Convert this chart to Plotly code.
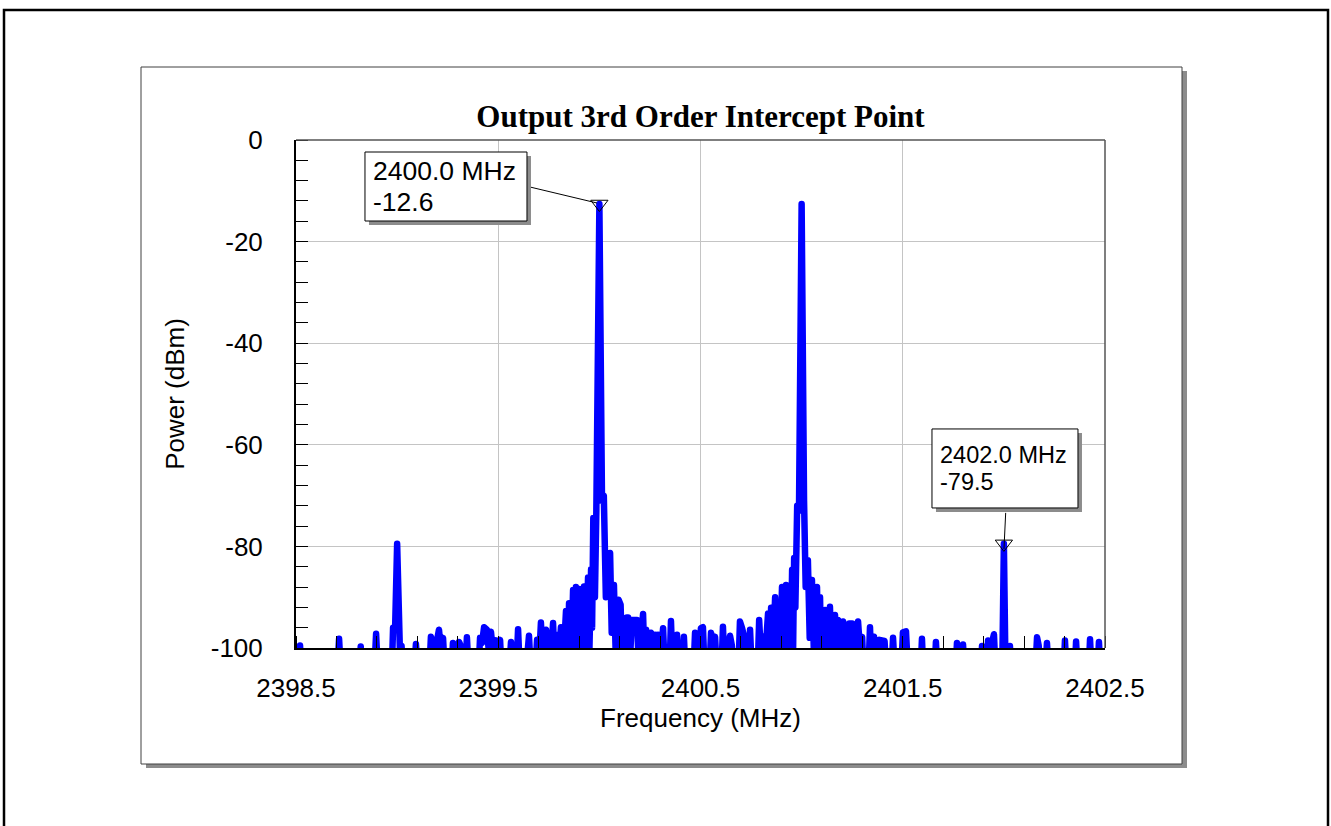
import plotly.graph_objects as go

# ---------------- data ----------------
# spectrum trace, split in four frequency regions; -104 dBm = below the plotted floor
r1_freq = [2398.500, 2398.515, 2398.520, 2398.526, 2398.705, 2398.713, 2398.721, 2398.814, 2398.820, 2398.826,
           2398.888, 2398.896, 2398.904, 2398.974, 2398.980, 2398.990, 2399.000, 2399.008, 2399.016, 2399.022,
           2399.028, 2399.085, 2399.093, 2399.101, 2399.160, 2399.167, 2399.188, 2399.207, 2399.217, 2399.227,
           2399.235, 2399.270, 2399.276, 2399.290, 2399.300, 2399.306, 2399.315, 2399.325, 2399.338, 2399.345,
           2399.353, 2399.403, 2399.410, 2399.420, 2399.430, 2399.444, 2399.452, 2399.464, 2399.472, 2399.489,
           2399.498, 2399.509, 2399.516]
r1_dbm = [-104, -104, -99.5, -104, -104, -98.2, -104, -104, -99.7, -104,
          -104, -97.2, -104, -104, -96.0, -96.2, -79.5, -104, -104, -99.6,
          -104, -104, -99.2, -104, -104, -97.8, -100.5, -96.4, -100.5, -98.0,
          -104, -104, -99.0, -104, -104, -98.8, -99.6, -104, -104, -97.9,
          -104, -104, -98.0, -99.0, -95.9, -96.4, -100, -96.8, -100, -98.5,
          -101, -98.4, -104]

r2_freq = [2399.555, 2399.563, 2399.571, 2399.590, 2399.598, 2399.606, 2399.638, 2399.644, 2399.652, 2399.660,
           2399.684, 2399.692, 2399.700, 2399.711, 2399.722, 2399.736, 2399.743, 2399.751, 2399.760, 2399.771,
           2399.780, 2399.795, 2399.801, 2399.810, 2399.820, 2399.835, 2399.843, 2399.850, 2399.860, 2399.870,
           2399.877, 2399.884, 2399.892, 2399.899, 2399.910, 2399.924, 2399.932, 2399.944, 2399.951, 2399.959,
           2399.964, 2399.970, 2399.978, 2399.985, 2400.000, 2400.013, 2400.022, 2400.032, 2400.053, 2400.061,
           2400.072, 2400.080, 2400.095, 2400.105, 2400.113, 2400.135, 2400.142, 2400.150, 2400.160, 2400.172,
           2400.186, 2400.195, 2400.216, 2400.224, 2400.231, 2400.240, 2400.255, 2400.265, 2400.275, 2400.283,
           2400.290, 2400.300, 2400.315, 2400.323, 2400.347, 2400.354, 2400.362, 2400.377, 2400.384, 2400.391,
           2400.411, 2400.418, 2400.425, 2400.466, 2400.473, 2400.480, 2400.495, 2400.502, 2400.512, 2400.520]
r2_dbm = [-104, -98.8, -104, -104, -96.3, -104, -104, -99.0, -97.6, -104,
          -104, -98.4, -104, -95.0, -104, -96.4, -102, -97.0, -102, -95.1,
          -104, -97.4, -101, -95.9, -104, -92.7, -104, -91.2, -104, -88.6,
          -104, -88.0, -104, -88.4, -104, -87.9, -104, -86.1, -100, -84.5,
          -96, -74.4, -90, -73.0, -12.6, -71.0, -70.0, -90.0, -81.3, -97,
          -87.6, -100, -90.5, -91.5, -104, -94.0, -94.0, -104, -94.5, -94.5,
          -94.5, -104, -93.3, -104, -96.4, -104, -97.0, -104, -97.4, -104,
          -97.4, -104, -96.1, -104, -104, -94.7, -104, -104, -97.4, -104,
          -104, -97.8, -104, -104, -97.0, -104, -104, -96.1, -95.9, -104]

r3_freq = [2400.545, 2400.552, 2400.565, 2400.572, 2400.580, 2400.604, 2400.611, 2400.619, 2400.636, 2400.646,
           2400.655, 2400.664, 2400.688, 2400.695, 2400.705, 2400.715, 2400.722, 2400.738, 2400.745, 2400.753,
           2400.783, 2400.790, 2400.800, 2400.809, 2400.816, 2400.834, 2400.842, 2400.849, 2400.856, 2400.869,
           2400.876, 2400.884, 2400.892, 2400.903, 2400.910, 2400.923, 2400.930, 2400.938, 2400.945, 2400.953,
           2400.958, 2400.963, 2400.969, 2400.978, 2400.987, 2401.000, 2401.012, 2401.020, 2401.031, 2401.040,
           2401.051, 2401.060, 2401.076, 2401.083, 2401.091, 2401.098, 2401.116, 2401.123, 2401.140, 2401.150,
           2401.165, 2401.172, 2401.180, 2401.190, 2401.205, 2401.212, 2401.235, 2401.250, 2401.258, 2401.279,
           2401.288, 2401.299, 2401.306, 2401.331, 2401.338, 2401.345, 2401.358, 2401.365, 2401.385, 2401.400,
           2401.410, 2401.418, 2401.445, 2401.452, 2401.460, 2401.493, 2401.501, 2401.516, 2401.525]
r3_dbm = [-104, -97.0, -100, -97.8, -104, -104, -95.8, -104, -99, -97.6,
          -99.5, -104, -104, -94.8, -96.0, -97.6, -104, -104, -96.4, -104,
          -104, -94.5, -102, -97.8, -104, -93.2, -104, -92.1, -104, -90.0,
          -104, -91.5, -104, -88.0, -104, -87.6, -104, -88.2, -104, -84.6,
          -100, -82.3, -92, -72.0, -73.0, -12.6, -71.0, -88, -82.7, -98,
          -86.6, -100, -88.0, -104, -90.0, -104, -92.5, -104, -91.9, -104,
          -93.5, -98, -94.5, -104, -94.8, -104, -95.2, -95.2, -104, -94.8,
          -100, -97.8, -104, -104, -95.9, -104, -97.8, -104, -98.4, -98.4,
          -98.6, -104, -104, -98.0, -104, -104, -96.9, -96.7, -104]

r4_freq = [2401.589, 2401.595, 2401.601, 2401.658, 2401.664, 2401.671, 2401.762, 2401.768, 2401.775, 2401.792,
           2401.798, 2401.805, 2401.887, 2401.892, 2401.898, 2401.915, 2401.922, 2401.935, 2401.951, 2401.958,
           2401.992, 2402.000, 2402.008, 2402.025, 2402.030, 2402.036, 2402.156, 2402.164, 2402.172, 2402.180,
           2402.206, 2402.213, 2402.221, 2402.296, 2402.302, 2402.309, 2402.351, 2402.357, 2402.364, 2402.420,
           2402.426, 2402.433, 2402.464, 2402.470, 2402.477, 2402.500]
r4_dbm = [-104, -98.2, -104, -104, -98.8, -104, -104, -99.0, -104, -104,
          -99.3, -104, -104, -99.6, -104, -104, -98.5, -100, -97.3, -104,
          -104, -79.5, -104, -104, -99.6, -104, -104, -97.9, -99.5, -104,
          -104, -99.0, -104, -104, -98.5, -104, -104, -98.7, -104, -104,
          -98.3, -104, -104, -98.8, -104, -104]

# marker readouts
marker_freq = [2400.0, 2402.0]
marker_dbm = [-12.6, -79.5]
marker_line1 = ["2400.0 MHz", "2402.0 MHz"]
marker_line2 = ["-12.6", "-79.5"]

# axis ticks
x_tick_vals = [2398.5, 2399.5, 2400.5, 2401.5, 2402.5]
x_tick_labels = ["2398.5", "2399.5", "2400.5", "2401.5", "2402.5"]
y_tick_vals = [0, -20, -40, -60, -80, -100]
y_tick_labels = ["0", "-20", "-40", "-60", "-80", "-100"]

title_text = "Output 3rd Order Intercept Point"
x_title = "Frequency (MHz)"
y_title = "Power (dBm)"

for a, b in [(r1_freq, r1_dbm), (r2_freq, r2_dbm), (r3_freq, r3_dbm), (r4_freq, r4_dbm)]:
    assert len(a) == len(b)

freq = r1_freq + r2_freq + r3_freq + r4_freq
power = r1_dbm + r2_dbm + r3_dbm + r4_dbm

# ---------------- layout constants ----------------
W, H = 1331, 826
PL, PR, PT, PB = 296, 1105, 140, 648      # plot area in px
PW, PH = PR - PL, PB - PT
SANS = "Liberation Sans, Arial, sans-serif"
SERIF = "Liberation Serif, Times New Roman, serif"


def px(xp):
    return (xp - PL) / PW


def py(yp):
    return (PB - yp) / PH


fig = go.Figure()
fig.add_trace(go.Scatter(x=freq, y=power, mode="lines",
                         line=dict(color="#0000ff", width=6.5),
                         hoverinfo="skip", showlegend=False))
fig.add_trace(go.Scatter(x=marker_freq, y=marker_dbm, mode="markers",
                         marker=dict(symbol="triangle-down-open", size=15, color="black",
                                     line=dict(width=1, color="black")),
                         hoverinfo="skip", showlegend=False))

shapes = []
# outer border
shapes.append(dict(type="rect", xref="paper", yref="paper", x0=px(4), x1=px(1328), y0=py(10), y1=py(840),
                   line=dict(color="black", width=2.5), fillcolor="rgba(0,0,0,0)", layer="below"))
# panel shadow + panel
shapes.append(dict(type="rect", xref="paper", yref="paper", x0=px(146), x1=px(1187), y0=py(71), y1=py(768),
                   line=dict(width=0), fillcolor="#8c8c8c", layer="below"))
shapes.append(dict(type="rect", xref="paper", yref="paper", x0=px(141), x1=px(1182), y0=py(67), y1=py(764),
                   line=dict(color="#404040", width=1), fillcolor="white", layer="below"))
# top / right frame of plot area
shapes.append(dict(type="line", xref="paper", yref="paper", x0=0, x1=1, y0=1, y1=1,
                   line=dict(color="#555555", width=1.5), layer="above"))
shapes.append(dict(type="line", xref="paper", yref="paper", x0=1, x1=1, y0=0, y1=1,
                   line=dict(color="#555555", width=1.5), layer="above"))

# readout boxes (pixel offsets relative to the marker data point)
box_geom = [  # x0, x1, y0, y1 (px offsets, y positive upward)
    (-234.4, -72.4, 52, -17),
    (-71.9, 74.1, 114.9, 35.9),
]
conn_geom = [
    (-69.4, 17, -2.4, 1),
    (1.8, 31, 0.1, -5),
]
text_geom = [  # xshift, yshift line1, yshift line2, font size
    (-226.4, 33, 2, 26.5),
    (-64, 89, 62, 23.5),
]
annotations = []
for i in range(len(marker_freq)):
    fx, fy = marker_freq[i], marker_dbm[i]
    x0, x1, y0, y1 = box_geom[i]
    common = dict(xref="x", yref="y", xsizemode="pixel", ysizemode="pixel", xanchor=fx, yanchor=fy, layer="above")
    shapes.append(dict(type="line", x0=conn_geom[i][0], y0=conn_geom[i][1], x1=conn_geom[i][2], y1=conn_geom[i][3],
                       line=dict(color="black", width=1), **common))
    shapes.append(dict(type="rect", x0=x0 + 4, x1=x1 + 4, y0=y0 - 4, y1=y1 - 4,
                       line=dict(width=0), fillcolor="#8c8c8c", **common))
    shapes.append(dict(type="rect", x0=x0, x1=x1, y0=y0, y1=y1,
                       line=dict(color="black", width=1), fillcolor="white", **common))
    xs, ys1, ys2, fs = text_geom[i]
    for txt, ys in [(marker_line1[i], ys1), (marker_line2[i], ys2)]:
        annotations.append(dict(x=fx, y=fy, xref="x", yref="y", text=txt, showarrow=False,
                                xanchor="left", yanchor="middle", xshift=xs, yshift=ys,
                                borderpad=0, borderwidth=0,
                                font=dict(family=SANS, size=fs, color="black")))

fig.update_layout(
    width=W, height=H,
    margin=dict(l=PL, r=W - PR, t=PT, b=H - PB, pad=0, autoexpand=False),
    paper_bgcolor="white", plot_bgcolor="white",
    showlegend=False,
    title=dict(text="<b>" + title_text + "</b>", x=0.5, xref="paper", xanchor="center",
               y=1 - 116 / H, yref="container", yanchor="middle",
               font=dict(family=SERIF, size=31, color="black")),
    shapes=shapes,
    annotations=annotations,
    xaxis=dict(range=[2398.5, 2402.5], tickmode="array", tickvals=x_tick_vals, ticktext=x_tick_labels,
               showgrid=True, gridcolor="#c4c4c4", gridwidth=1, zeroline=False,
               ticks="", showline=True, linecolor="black", linewidth=2, mirror=False,
               ticklabelstandoff=16,
               tickfont=dict(family=SANS, size=26, color="black"),
               minor=dict(tickmode="linear", tick0=2398.5, dtick=0.2, ticks="inside", ticklen=12,
                          tickcolor="black", tickwidth=1, showgrid=False),
               title=dict(text=x_title, font=dict(family=SANS, size=26, color="black"), standoff=6),
               automargin=False, fixedrange=True),
    yaxis=dict(range=[-100, 0], tickmode="array", tickvals=y_tick_vals, ticktext=y_tick_labels,
               showgrid=True, gridcolor="#c4c4c4", gridwidth=1, zeroline=False,
               ticks="", showline=True, linecolor="black", linewidth=2, mirror=False,
               ticklabelstandoff=26,
               tickfont=dict(family=SANS, size=26, color="black"),
               minor=dict(tickmode="linear", tick0=0, dtick=4, ticks="inside", ticklen=12,
                          tickcolor="black", tickwidth=1, showgrid=False),
               title=dict(text=y_title, font=dict(family=SANS, size=26, color="black"), standoff=19),
               automargin=False, fixedrange=True),
)

post = (
    "document.body.style.margin='0px';"
    "document.body.style.overflow='hidden';"
    "var st=document.createElement('style');"
    "st.textContent='.scatterlayer .js-line{stroke-linejoin:round !important;stroke-linecap:round !important;}';"
    "document.head.appendChild(st);"
)
fig.write_html("out.html", post_script=post, config={"displayModeBar": False, "staticPlot": True})
